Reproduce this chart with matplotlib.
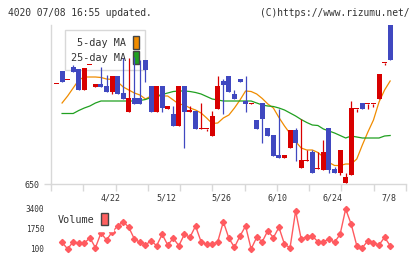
import numpy as np
import matplotlib
matplotlib.use("Agg")
import matplotlib.pyplot as plt
from matplotlib.patches import Patch

plt.rcParams['font.family'] = ['DejaVu Sans Mono']

# daily prices, oldest first
opens = [850, 876, 859, 885, 880, 838, 888, 845, 850, 847, 835, 866, 833, 795, 823, 823,
         899, 846, 795, 846, 801, 791, 766, 846, 795, 796, 761, 761, 746, 801, 857, 866,
         831, 860, 816, 811, 778, 812, 762, 748, 708, 703, 723, 758, 683, 697, 715, 680,
         679, 762, 680, 673, 653, 668, 801, 812, 811, 811, 821, 893, 968]
highs = [850, 876, 859, 889, 880, 883, 888, 850, 885, 868, 866, 866, 903, 903, 905, 899,
         899, 846, 846, 846, 806, 806, 846, 846, 806, 796, 813, 761, 796, 866, 860, 866,
         839, 860, 866, 813, 778, 812, 762, 748, 801, 708, 758, 762, 781, 718, 718, 715,
         738, 762, 684, 718, 673, 816, 801, 812, 811, 811, 870, 893, 968]
lows = [850, 855, 859, 875, 838, 838, 888, 845, 845, 835, 830, 831, 820, 795, 811, 811,
        855, 795, 795, 795, 801, 766, 766, 723, 795, 761, 761, 757, 746, 801, 790, 835,
        820, 855, 795, 811, 760, 733, 747, 707, 703, 703, 723, 697, 683, 697, 673, 680,
        679, 673, 673, 668, 653, 668, 795, 801, 801, 805, 821, 889, 898]
closes = [850, 855, 859, 875, 838, 883, 888, 850, 845, 835, 866, 831, 820, 823, 811, 811,
          879, 795, 846, 803, 806, 766, 846, 795, 798, 761, 761, 761, 786, 846, 849, 835,
          820, 855, 811, 813, 760, 780, 747, 707, 703, 708, 758, 733, 698, 697, 673, 680,
          715, 679, 673, 718, 665, 802, 801, 801, 811, 811, 870, 893, 898]

nan = np.nan
ma5 = [nan, 812, 826, 842, 858, 864, 864, 864, 863, 860, 859, 854, 844, 838, 832, 828,
       820, 826, 826, 826, 826, 818, 810, 808, 802, 798, 792, 782, 771, 772, 782, 788,
       802, 818, 836, 835, 830, 821, 810, 802, 783, 766, 751, 735, 722, 718, 718, 713,
       704, 693, 687, 687, 690, 690, 700, 728, 754, 778, 814, 838, 856]
ma25 = [nan, 791, 791, 791, 797, 802, 806, 812, 816, 816, 816, 816, 816, 816, 816, 817,
        819, 823, 826, 829, 832, 835, 836, 836, 835, 833, 830, 825, 820, 818, 816, 816,
        816, 816, 816, 816, 812, 808, 806, 805, 802, 798, 792, 786, 779, 773, 768, 767,
        760, 756, 752, 747, 742, 746, 744, 742, 742, 742, 742, 746, 747]
volume = [nan, 653, 100, 702, 570, 570, 1032, 207, 1420, 842, 1500, 1997, 2352, 1890, 925, 653,
          430, 785, 372, 1313, 430, 983, 372, 1313, 1065, 1997, 702, 488, 488, 702, 2352, 983,
          240, 1172, 1997, 100, 1065, 702, 1610, 1032, 1890, 488, 207, 3235, 925, 1115, 1172, 702,
          702, 925, 653, 1313, 3400, 2138, 372, 207, 785, 620, 430, 1065, 372]

date_labels = ['4/22', '5/12', '5/26', '6/10', '6/24', '7/8']
date_idx = [10, 20, 30, 40, 50, 60]
vol_ticks = [100, 1750, 3400]

up_col = '#d80000'
down_col = '#4048c0'
grid_col = '#d8d8d8'
txt_col = '#333333'

o = np.array(opens, float)
c = np.array(closes, float)
h = np.array(highs, float)
l = np.array(lows, float)
x = np.arange(len(o))
cols = [up_col if cc >= oo else down_col for oo, cc in zip(o, c)]

fig = plt.figure(figsize=(4.2, 2.59), dpi=100)
W, H = 420, 259

# price panel
ax = fig.add_axes([51 / W, 1 - 184 / H, 355 / W, 159 / H])
xlim = (-0.99, 62.85)
ax.set_xlim(*xlim)
ax.set_ylim(650, 968)

ax.vlines(x, l, h, colors=cols, lw=0.9, zorder=3)
body_lo = np.minimum(o, c)
body_h = np.maximum(np.abs(c - o), 1.6)
ax.bar(x, body_h, bottom=body_lo, width=0.9, color=cols, lw=0, zorder=4)

ax.plot(x, ma5, color='#f08c00', lw=0.9, zorder=2)
ax.plot(x, ma25, color='#20a020', lw=0.9, zorder=2)

for s in ['top', 'right']:
    ax.spines[s].set_visible(False)
for s in ['left', 'bottom']:
    ax.spines[s].set_color(grid_col)
    ax.spines[s].set_linewidth(1)
ax.set_xticks(np.linspace(xlim[0], xlim[1], 12))
ax.set_xticklabels([])
ax.set_yticks([650])
ax.set_yticklabels(['650'], fontsize=6, color=txt_col)
ax.tick_params(axis='both', length=5, width=1, color=grid_col, pad=3.5)

for lab, i in zip(date_labels, date_idx):
    ax.text(i - 0.3, -0.088, lab, transform=ax.get_xaxis_transform(),
            ha='center', va='center', fontsize=6, color=txt_col)

handles = [Patch(facecolor='#f08c00', edgecolor='#444444', lw=1, label='5-day MA'),
           Patch(facecolor='#20a020', edgecolor='#444444', lw=1, label='25-day MA')]
leg = ax.legend(handles=handles, loc='upper left', bbox_to_anchor=(65 / W, 1 - 30 / H),
                bbox_transform=fig.transFigure, markerfirst=False, fontsize=7.3,
                handlelength=0.55, handleheight=1.5, handletextpad=0.66,
                labelspacing=0.25, borderpad=0.62, borderaxespad=0,
                frameon=True, fancybox=False, framealpha=1)
leg.get_frame().set_facecolor('none')
leg.get_frame().set_edgecolor(grid_col)
leg.get_frame().set_linewidth(1)
leg.set_zorder(1)
for t in leg.get_texts():
    t.set_color(txt_col)

# volume panel
axv = fig.add_axes([51 / W, 1 - 253 / H, 355 / W, 48 / H])
axv.set_xlim(*xlim)
axv.set_ylim(-230, 3730)
axv.plot(x, volume, color='#ff5a5f', lw=1, marker='D', ms=3.1, zorder=2)
for s in axv.spines.values():
    s.set_visible(False)
axv.set_xticks([])
axv.set_yticks(vol_ticks)
axv.set_yticklabels([str(v) for v in vol_ticks], fontsize=5.6, color=txt_col)
axv.tick_params(axis='y', length=0, pad=5)

vleg = axv.legend(handles=[Patch(facecolor='#ff6060', edgecolor='#444444', lw=1, label='Volume')],
                  loc='upper left', bbox_to_anchor=(53 / W, 1 - 208 / H),
                  bbox_transform=fig.transFigure, markerfirst=False, fontsize=7.3,
                  handlelength=0.7, handleheight=1.5, handletextpad=0.6,
                  borderpad=0.5, borderaxespad=0, frameon=True, fancybox=False,
                  framealpha=1)
vleg.get_frame().set_facecolor('white')
vleg.get_frame().set_edgecolor('white')
vleg.set_zorder(5)
for t in vleg.get_texts():
    t.set_color(txt_col)

fig.text(8 / W, 1 - 13 / H, '4020 07/08 16:55 updated.', ha='left', va='center',
         fontsize=6.9, color=txt_col)
fig.text(409 / W, 1 - 13 / H, '(C)https://www.rizumu.net/', ha='right', va='center',
         fontsize=6.9, color=txt_col)

fig.savefig('out.png', dpi=100)
